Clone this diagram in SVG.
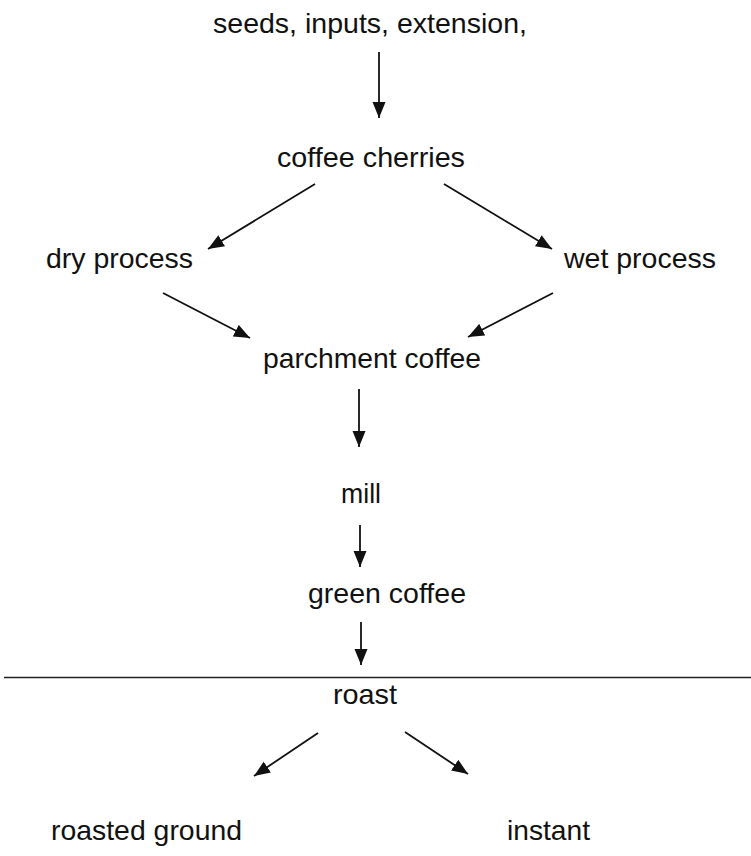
<svg xmlns="http://www.w3.org/2000/svg" width="751" height="856" viewBox="0 0 751 856">
  <style>
    .label { font-family: "Liberation Sans", Arial, sans-serif; font-size: 28px; fill: #111; }
    .conn { stroke: #111; stroke-width: 1.8; fill: none; }
  </style>
  <defs>
    <marker id="arrow" markerUnits="userSpaceOnUse" markerWidth="16" markerHeight="14" refX="16" refY="7" orient="auto">
      <path d="M0,0.5 L16,7 L0,13.5 z" fill="#111"/>
    </marker>
  </defs>
  <rect width="751" height="856" fill="#fff"/>

  <g id="connectors">
    <line class="conn" x1="379" y1="52" x2="379" y2="118" marker-end="url(#arrow)"/>
    <line class="conn" x1="315" y1="184" x2="208" y2="249" marker-end="url(#arrow)"/>
    <line class="conn" x1="444" y1="184" x2="552" y2="249" marker-end="url(#arrow)"/>
    <line class="conn" x1="163" y1="293" x2="250" y2="338" marker-end="url(#arrow)"/>
    <line class="conn" x1="553" y1="293" x2="468" y2="337" marker-end="url(#arrow)"/>
    <line class="conn" x1="359" y1="389" x2="359" y2="447" marker-end="url(#arrow)"/>
    <line class="conn" x1="360" y1="525" x2="360" y2="567" marker-end="url(#arrow)"/>
    <line class="conn" x1="361" y1="622" x2="361" y2="665" marker-end="url(#arrow)"/>
    <line class="conn" x1="318" y1="733" x2="254" y2="776" marker-end="url(#arrow)"/>
    <line class="conn" x1="405" y1="732" x2="468" y2="774" marker-end="url(#arrow)"/>
  </g>

  <!-- divider between growing/processing and roasting stages -->
  <line id="divider" x1="4" y1="677.5" x2="751" y2="677.5" stroke="#222" stroke-width="1.4"/>

  <g id="seeds"><text class="label" x="213" y="33" textLength="314" lengthAdjust="spacingAndGlyphs">seeds, inputs, extension,</text></g>
  <g id="cherries"><text class="label" x="277" y="167" textLength="188" lengthAdjust="spacingAndGlyphs">coffee cherries</text></g>
  <g id="dry"><text class="label" x="46" y="268" textLength="147" lengthAdjust="spacingAndGlyphs">dry process</text></g>
  <g id="wet"><text class="label" x="564" y="268" textLength="152" lengthAdjust="spacingAndGlyphs">wet process</text></g>
  <g id="parchment"><text class="label" x="263" y="368" textLength="218" lengthAdjust="spacingAndGlyphs">parchment coffee</text></g>
  <g id="mill"><text class="label" x="341" y="503" textLength="40" lengthAdjust="spacingAndGlyphs">mill</text></g>
  <g id="green"><text class="label" x="308" y="603" textLength="158" lengthAdjust="spacingAndGlyphs">green coffee</text></g>
  <g id="roast"><text class="label" x="333" y="704" textLength="64" lengthAdjust="spacingAndGlyphs">roast</text></g>
  <g id="ground"><text class="label" x="51" y="840" textLength="191" lengthAdjust="spacingAndGlyphs">roasted ground</text></g>
  <g id="instant"><text class="label" x="507" y="840" textLength="83" lengthAdjust="spacingAndGlyphs">instant</text></g>
</svg>
